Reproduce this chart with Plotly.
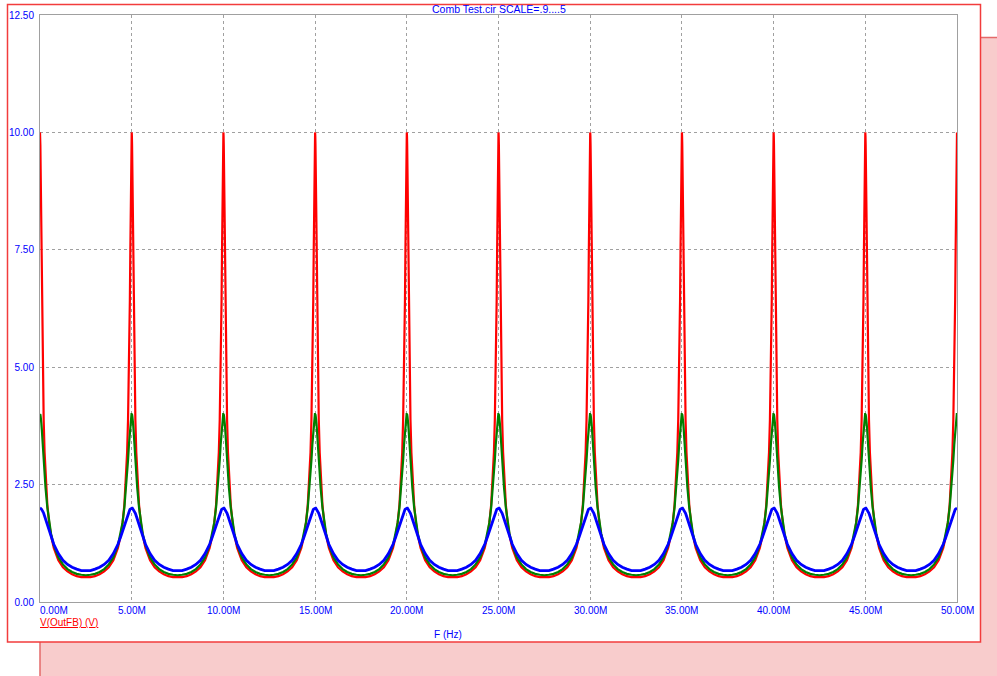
import plotly.graph_objects as go

# ---- data (one half-period profile, repeated at each comb peak) ----
PEAK_MHZ = [0, 5, 10, 15, 20, 25, 30, 35, 40, 45, 50]
OFFSET_MHZ = [0, 0.01, 0.02, 0.035, 0.05, 0.075, 0.1, 0.125, 0.15, 0.2, 0.25, 0.3,
              0.4, 0.5, 0.6, 0.75, 1.0, 1.25, 1.5, 1.75, 2.0, 2.25, 2.5]
RED_V = [10.0, 9.93, 9.73, 9.23, 8.59, 7.46, 6.43, 5.58, 4.89, 3.88, 3.19, 2.71,
         2.07, 1.68, 1.42, 1.15, 0.89, 0.74, 0.65, 0.59, 0.55, 0.53, 0.53]
GREEN_V = [4.0, 4.0, 3.99, 3.95, 3.91, 3.80, 3.67, 3.51, 3.35, 3.02, 2.71, 2.44,
           2.01, 1.69, 1.46, 1.21, 0.95, 0.80, 0.70, 0.64, 0.60, 0.58, 0.57]
BLUE_V = [2.0, 2.0, 2.0, 2.0, 1.99, 1.98, 1.97, 1.95, 1.93, 1.89, 1.83, 1.77,
          1.64, 1.51, 1.39, 1.23, 1.03, 0.89, 0.80, 0.74, 0.70, 0.67, 0.67]

X_TICKS = [0, 5, 10, 15, 20, 25, 30, 35, 40, 45, 50]
X_TICK_TEXT = ["0.00M", "5.00M", "10.00M", "15.00M", "20.00M", "25.00M",
               "30.00M", "35.00M", "40.00M", "45.00M", "50.00M"]
Y_TICKS = [0, 2.5, 5, 7.5, 10, 12.5]
Y_TICK_TEXT = ["0.00", "2.50", "5.00", "7.50", "10.00", "12.50"]

TITLE = "Comb Test.cir SCALE=.9....5"
X_TITLE = "F (Hz)"
Y_NAME = "V(OutFB) (V)"


def build(vals):
    xs, ys = [], []
    period = PEAK_MHZ[1] - PEAK_MHZ[0]
    for p in PEAK_MHZ[:-1]:
        for d, v in zip(OFFSET_MHZ, vals):
            xs.append(p + d)
            ys.append(v)
        for d, v in zip(reversed(OFFSET_MHZ[1:-1]), reversed(vals[1:-1])):
            xs.append(p + period - d)
            ys.append(v)
    xs.append(PEAK_MHZ[-1])
    ys.append(vals[0])
    return xs, ys


FONT = "Arial, 'Liberation Sans', sans-serif"
W, H = 997, 676
L, R, T, B = 40, 40, 15, 74
PW, PH = W - L - R, H - T - B


def fx(px):
    return (px - L) / PW


def fy(py):
    return (H - B - py) / PH


fig = go.Figure()
for vals, color, width in [(RED_V, "#ff0000", 2.2), (GREEN_V, "#007f00", 2.2), (BLUE_V, "#0000ff", 2.8)]:
    xs, ys = build(vals)
    fig.add_trace(go.Scatter(x=xs, y=ys, mode="lines",
                             line=dict(color=color, width=width),
                             hoverinfo="skip", showlegend=False))

shapes = [
    dict(type="rect", xref="paper", yref="paper", layer="below",
         x0=fx(40), x1=fx(1002), y0=fy(681), y1=fy(37.5),
         fillcolor="#f8cccc", line=dict(color="#e46a6a", width=1.5)),
    dict(type="rect", xref="paper", yref="paper", layer="below",
         x0=fx(7.5), x1=fx(980.5), y0=fy(642), y1=fy(4.5),
         fillcolor="#ffffff", line=dict(color="#f23c3c", width=1.5)),
]

annotations = []
for v, t in zip(X_TICKS, X_TICK_TEXT):
    first = v == X_TICKS[0]
    annotations.append(dict(x=v, xref="x", y=0, yref="paper", text=t,
                            showarrow=False, xanchor="left" if first else "center",
                            yanchor="top", yshift=-1, xshift=-2 if first else 0,
                            font=dict(family=FONT, size=10, color="#0000ff")))
annotations.append(dict(x=fx(40), xref="paper", y=fy(622), yref="paper",
                        text="<u>" + Y_NAME + "</u>", showarrow=False,
                        xanchor="left", yanchor="middle", xshift=-2,
                        font=dict(family=FONT, size=10, color="#ff0000")))
annotations.append(dict(x=fx(448), xref="paper", y=fy(634), yref="paper",
                        text=X_TITLE, showarrow=False,
                        xanchor="center", yanchor="middle",
                        font=dict(family=FONT, size=10, color="#0000ff")))
annotations.append(dict(x=0.5, xref="paper", y=fy(9), yref="paper",
                        text=TITLE, showarrow=False,
                        xanchor="center", yanchor="middle",
                        font=dict(family=FONT, size=10.5, color="#0000ff")))

fig.update_layout(
    width=W, height=H,
    margin=dict(l=L, r=R, t=T, b=B, pad=0, autoexpand=False),
    paper_bgcolor="#ffffff",
    plot_bgcolor="rgba(0,0,0,0)",
    shapes=shapes,
    annotations=annotations,
    hovermode=False,
    showlegend=False,
    xaxis=dict(range=[X_TICKS[0], X_TICKS[-1]], tickvals=X_TICKS, showticklabels=False,
               showgrid=True, gridcolor="#a0a0a0", gridwidth=1, griddash="3px,3px",
               showline=True, linecolor="#a0a0a0", linewidth=1, mirror=True,
               zeroline=False, ticks="", fixedrange=True, automargin=False),
    yaxis=dict(range=[Y_TICKS[0], Y_TICKS[-1]], tickvals=Y_TICKS, ticktext=Y_TICK_TEXT,
               tickfont=dict(family=FONT, size=10, color="#0000ff"),
               showgrid=True, gridcolor="#a0a0a0", gridwidth=1, griddash="3px,3px",
               showline=True, linecolor="#a0a0a0", linewidth=1, mirror=True,
               zeroline=False, ticks="", ticklabelstandoff=3, fixedrange=True,
               automargin=False),
)

fig.write_html("out.html", config={"displayModeBar": False})
